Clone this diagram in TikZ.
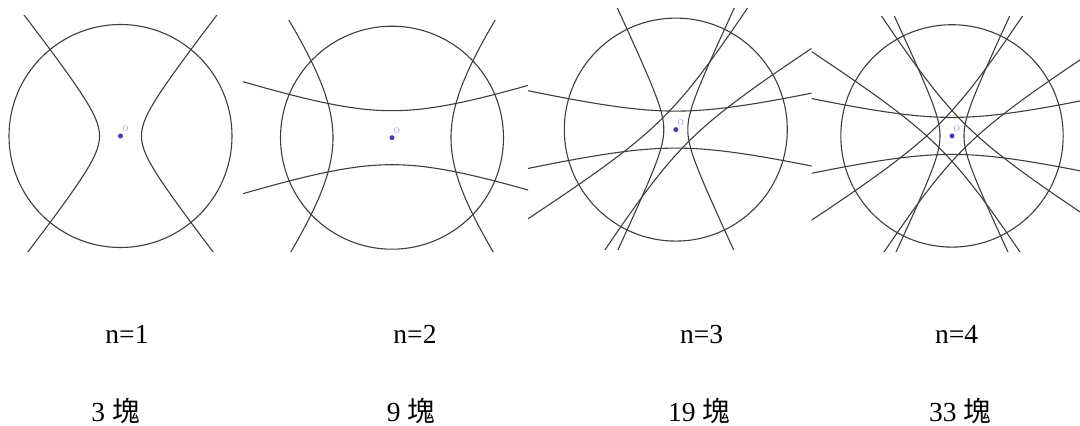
\documentclass[tikz,border=0pt]{standalone}
\usepackage{fontspec}
\setmainfont{Liberation Serif}
\newfontfamily\cjk{Noto Sans CJK TC}
\definecolor{curvegray}{RGB}{62,62,62}
\definecolor{dotblue}{RGB}{60,60,200}
\definecolor{lightblue}{RGB}{150,150,255}
\newcommand\hypb[4]{\draw[curve,shift={(#1)},rotate=#2]plot[domain=-2.8:2.8]({#3*cosh(\x)},{#4*sinh(\x)})plot[domain=-2.8:2.8]({-#3*cosh(\x)},{#4*sinh(\x)});}

\begin{document}
\begin{tikzpicture}[x=1pt,y=1pt,
  curve/.style={curvegray,line width=1.1pt,samples=141},
  odot/.style={fill=dotblue},
  olab/.style={lightblue,font=\fontsize{8.5}{8.5}\selectfont,inner sep=0pt},
  lab/.style={anchor=base,font=\fontsize{27.5}{30}\selectfont}]
  \useasboundingbox(0,0)rectangle(1080,426);
  \coordinate(o1)at(120.5,290);
  \coordinate(o2)at(392,288.3);
  \coordinate(o3)at(675.8,296.4);
  \coordinate(o4)at(952,290.1);
  \begin{scope}
    \clip(0,174)rectangle(243,410);
    \draw[curve](o1)circle(111.5pt);
    \hypb{o1}{0}{21}{27}
  \end{scope}
  \begin{scope}
    \clip(243,174)rectangle(528,405.3);
    \draw[curve](o2)circle(111.5pt);
    \hypb{o2}{0}{59}{82}
    \hypb{o2}{90}{27}{82}
  \end{scope}
  \begin{scope}
    \clip(528,176)rectangle(811.7,417);
    \draw[curve](o3)circle(111.5pt);
    \hypb{o3}{90}{18.5}{80}
    \hypb{o3}{0}{12}{25.5}
    \hypb{o3}{135}{17.5}{78}
  \end{scope}
  \begin{scope}
    \clip(811.7,174)rectangle(1080,409.3);
    \draw[curve](o4)circle(111.2pt);
    \hypb{o4}{90}{18.5}{80}
    \hypb{o4}{0}{12}{25.5}
    \hypb{o4}{135}{17.5}{78}
    \hypb{o4}{45}{17.5}{78}
  \end{scope}
  \fill[odot](o1)circle(2.5pt);
  \fill[odot](o2)circle(2.5pt);
  \fill[odot](o3)circle(2.5pt);
  \fill[odot](o4)circle(2.5pt);
  \node[olab](l1)at([shift={(5,7)}]o1){O};
  \node[olab](l2)at([shift={(5,7)}]o2){O};
  \node[olab](l3)at([shift={(5,7)}]o3){O};
  \node[olab](l4)at([shift={(5,7)}]o4){O};
  \node[lab](n1)at(127,82.7){n=1};
  \node[lab](n2)at(415,82.7){n=2};
  \node[lab](n3)at(701.7,82.7){n=3};
  \node[lab](n4)at(956.7,82.7){n=4};
  \node[lab](k1)at(115.5,4.3){3 {\cjk 塊}};
  \node[lab](k2)at(411,4.3){9 {\cjk 塊}};
  \node[lab](k3)at(699,4.3){19 {\cjk 塊}};
  \node[lab](k4)at(960,4.3){33 {\cjk 塊}};
\end{tikzpicture}
\end{document}
